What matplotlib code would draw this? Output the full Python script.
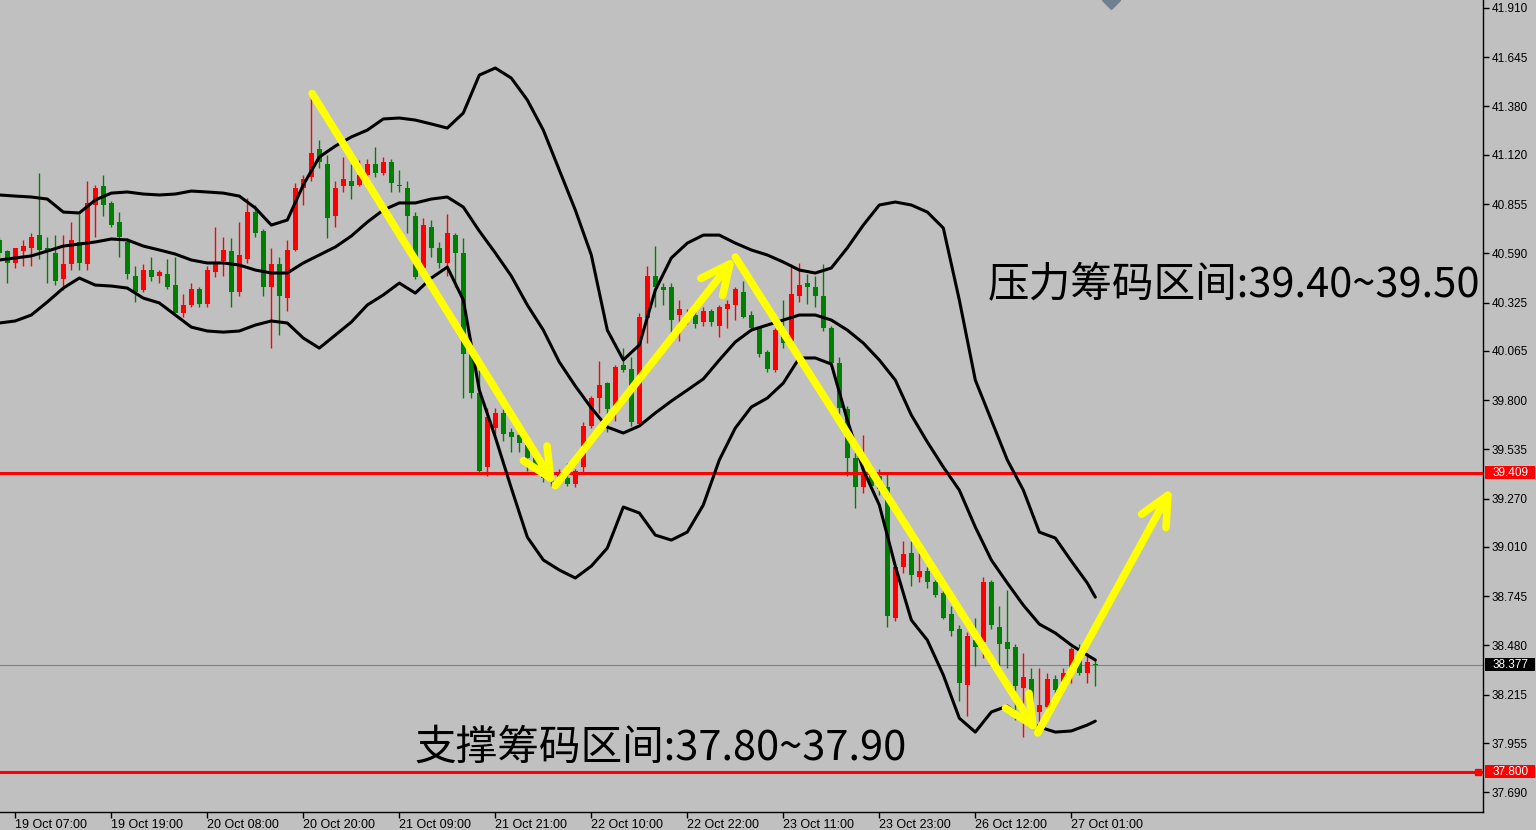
import numpy as np
import matplotlib
matplotlib.use('Agg')
import matplotlib.pyplot as plt
import matplotlib.transforms as mtransforms
from matplotlib.patches import Rectangle

plt.rcParams['font.family'] = ['Liberation Sans', 'DejaVu Sans']

# H1 candles, first bar is 19 Oct 05:00 (index -2), 19 Oct 07:00 is index 0
first_bar = -2
opens = [
    40.66, 40.60, 40.54, 40.60, 40.62, 40.69, 40.62, 40.59, 40.45, 40.53,
    40.65, 40.53, 40.85, 40.95, 40.86, 40.76, 40.65, 40.47, 40.39, 40.50,
    40.47, 40.48, 40.42, 40.27, 40.31, 40.40, 40.32, 40.49, 40.55, 40.60,
    40.38, 40.56, 40.81, 40.71, 40.41, 40.53, 40.35, 40.61, 40.94, 41.00,
    41.15, 41.07, 40.79, 40.95, 40.98, 40.96, 41.01, 41.07, 41.02, 41.08,
    40.96, 40.94, 40.79, 40.51, 40.73, 40.62, 40.54, 40.69, 40.59, 40.05,
    39.84, 39.44, 39.65, 39.73, 39.63, 39.61, 39.56, 39.49, 39.42, 39.39,
    39.37, 39.38, 39.35, 39.44, 39.66, 39.81, 39.89, 39.76, 39.99, 39.97,
    39.67, 40.24, 40.47, 40.41, 40.41, 40.26, 40.23, 40.26, 40.22, 40.28,
    40.20, 40.29, 40.31, 40.38, 40.26, 40.19, 40.06, 39.96, 40.18, 40.12,
    40.36, 40.43, 40.41, 40.36, 40.19, 40.00, 39.75, 39.49, 39.33, 39.41,
    39.39, 39.33, 38.63, 38.90, 38.98, 38.85, 38.88, 38.82, 38.76, 38.65,
    38.57, 38.27, 38.51, 38.50, 38.82, 38.58, 38.50, 38.47, 38.25, 38.30,
    38.12, 38.15, 38.30, 38.28, 38.32, 38.44, 38.33, 38.38]
highs = [
    40.68, 40.61, 40.62, 40.66, 40.70, 41.02, 40.68, 40.69, 40.69, 40.76,
    40.80, 40.98, 40.96, 41.01, 40.87, 40.81, 40.67, 40.52, 40.53, 40.57,
    40.50, 40.56, 40.57, 40.37, 40.43, 40.41, 40.52, 40.73, 40.68, 40.67,
    40.76, 40.89, 40.85, 40.72, 40.62, 40.57, 40.66, 40.97, 41.01, 41.45,
    41.20, 41.12, 40.98, 41.11, 41.07, 41.09, 41.10, 41.16, 41.11, 41.10,
    41.04, 40.98, 40.81, 40.78, 40.77, 40.65, 40.80, 40.70, 40.67, 40.08,
    39.96, 39.76, 39.76, 39.75, 39.65, 39.63, 39.57, 39.52, 39.47, 39.42,
    39.43, 39.46, 39.43, 39.68, 39.82, 40.01, 39.90, 39.99, 40.08, 40.03,
    40.27, 40.52, 40.63, 40.43, 40.43, 40.34, 40.29, 40.30, 40.30, 40.29,
    40.31, 40.34, 40.41, 40.44, 40.28, 40.20, 40.07, 40.19, 40.34, 40.53,
    40.54, 40.48, 40.47, 40.53, 40.20, 40.03, 39.77, 39.52, 39.61, 39.45,
    39.43, 39.40, 38.92, 39.04, 39.04, 38.98, 38.90, 38.83, 38.78, 38.69,
    38.59, 38.55, 38.63, 38.85, 38.83, 38.69, 38.78, 38.49, 38.44, 38.36,
    38.36, 38.33, 38.32, 38.36, 38.47, 38.49, 38.44, 38.40]
lows = [
    40.56, 40.43, 40.51, 40.52, 40.52, 40.56, 40.43, 40.42, 40.39, 40.50,
    40.50, 40.50, 40.68, 40.79, 40.73, 40.57, 40.45, 40.33, 40.38, 40.44,
    40.43, 40.40, 40.27, 40.25, 40.30, 40.30, 40.30, 40.46, 40.47, 40.30,
    40.36, 40.54, 40.68, 40.36, 40.08, 40.15, 40.28, 40.60, 40.85, 40.98,
    41.05, 40.67, 40.73, 40.92, 40.88, 40.95, 41.00, 41.00, 41.01, 40.92,
    40.92, 40.70, 40.45, 40.46, 40.57, 40.51, 40.47, 40.41, 39.81, 39.81,
    39.41, 39.39, 39.62, 39.58, 39.52, 39.52, 39.42, 39.41, 39.36, 39.34,
    39.35, 39.34, 39.33, 39.41, 39.65, 39.73, 39.63, 39.69, 39.95, 39.66,
    39.67, 40.11, 40.30, 40.31, 40.16, 40.12, 40.21, 40.19, 40.20, 40.20,
    40.14, 40.19, 40.23, 40.24, 40.17, 40.03, 39.95, 39.95, 40.08, 40.11,
    40.33, 40.32, 40.30, 40.17, 39.99, 39.69, 39.39, 39.22, 39.30, 39.32,
    39.29, 38.58, 38.61, 38.87, 38.80, 38.82, 38.79, 38.74, 38.62, 38.53,
    38.18, 38.10, 38.37, 38.41, 38.57, 38.37, 38.36, 38.08, 37.99, 38.12,
    38.03, 38.13, 38.20, 38.24, 38.28, 38.32, 38.28, 38.26]
closes = [
    40.59, 40.54, 40.62, 40.63, 40.68, 40.61, 40.61, 40.44, 40.53, 40.66,
    40.54, 40.86, 40.94, 40.85, 40.74, 40.68, 40.48, 40.38, 40.50, 40.46,
    40.49, 40.41, 40.27, 40.31, 40.40, 40.32, 40.50, 40.53, 40.61, 40.38,
    40.58, 40.81, 40.70, 40.41, 40.53, 40.36, 40.61, 40.94, 40.99, 41.13,
    41.08, 40.78, 40.94, 40.99, 40.95, 41.01, 41.07, 41.02, 41.08, 40.97,
    40.95, 40.79, 40.46, 40.74, 40.62, 40.54, 40.70, 40.59, 40.05, 39.84,
    39.42, 39.71, 39.73, 39.62, 39.60, 39.57, 39.49, 39.44, 39.38, 39.36,
    39.41, 39.35, 39.42, 39.66, 39.81, 39.88, 39.75, 39.98, 39.96, 39.68,
    40.25, 40.47, 40.41, 40.39, 40.23, 40.29, 40.26, 40.21, 40.28, 40.22,
    40.30, 40.32, 40.40, 40.25, 40.19, 40.05, 39.97, 40.18, 40.11, 40.37,
    40.42, 40.41, 40.36, 40.19, 40.00, 39.76, 39.49, 39.33, 39.41, 39.34,
    39.32, 38.64, 38.90, 38.97, 38.86, 38.88, 38.82, 38.75, 38.63, 38.56,
    38.28, 38.53, 38.47, 38.82, 38.59, 38.49, 38.46, 38.26, 38.31, 38.17,
    38.16, 38.30, 38.24, 38.33, 38.46, 38.33, 38.39, 38.377]

# bollinger bands read every second bar, last point is the final bar
band_bars = list(range(-2, 135, 2)) + [135]
band_upper = [
    40.904, 40.898, 40.893, 40.882, 40.812, 40.807, 40.877, 40.914, 40.920, 40.909,
    40.904, 40.909, 40.925, 40.920, 40.914, 40.898, 40.834, 40.742, 40.769, 40.958,
    41.108, 41.167, 41.216, 41.253, 41.313, 41.318, 41.307, 41.286, 41.264, 41.345,
    41.549, 41.587, 41.533, 41.415, 41.253, 41.038, 40.823, 40.581, 40.177, 40.016,
    40.097, 40.392, 40.565, 40.645, 40.688, 40.688, 40.645, 40.608, 40.581, 40.543,
    40.500, 40.484, 40.511, 40.619, 40.742, 40.850, 40.866, 40.850, 40.812, 40.726,
    40.339, 39.908, 39.693, 39.478, 39.316, 39.090, 39.058, 38.934, 38.816, 38.740]
band_mid = [
    40.554, 40.565, 40.576, 40.602, 40.629, 40.640, 40.651, 40.667, 40.662, 40.629,
    40.608, 40.586, 40.554, 40.538, 40.538, 40.527, 40.500, 40.484, 40.484, 40.538,
    40.581, 40.624, 40.683, 40.758, 40.823, 40.861, 40.861, 40.882, 40.893, 40.839,
    40.710, 40.592, 40.468, 40.312, 40.177, 40.005, 39.876, 39.758, 39.655, 39.623,
    39.661, 39.731, 39.795, 39.854, 39.914, 40.016, 40.113, 40.177, 40.204, 40.231,
    40.258, 40.258, 40.231, 40.177, 40.107, 40.016, 39.908, 39.720, 39.575, 39.440,
    39.316, 39.117, 38.940, 38.816, 38.697, 38.595, 38.547, 38.482, 38.428, 38.402]
band_lower = [
    40.215, 40.226, 40.258, 40.328, 40.403, 40.457, 40.419, 40.414, 40.403, 40.349,
    40.323, 40.258, 40.193, 40.172, 40.166, 40.172, 40.204, 40.226, 40.215, 40.134,
    40.080, 40.150, 40.220, 40.312, 40.366, 40.430, 40.376, 40.457, 40.516, 40.339,
    39.854, 39.601, 39.327, 39.063, 38.940, 38.886, 38.843, 38.907, 39.004, 39.225,
    39.193, 39.074, 39.047, 39.090, 39.236, 39.478, 39.650, 39.763, 39.811, 39.892,
    40.027, 40.027, 39.994, 39.693, 39.424, 39.236, 38.907, 38.617, 38.509, 38.321,
    38.089, 38.014, 38.122, 38.154, 38.089, 38.041, 38.014, 38.020, 38.052, 38.073]

# hand drawn zigzag (bar index, price)
arrow_bars = [37.1, 67.5, 90.0, 127.8, 144.6]
arrow_prices = [41.45, 39.34, 40.57, 38.01, 39.33]

resist_level = 39.409
support_level = 37.800
last_price = 38.377

price_ticks = [41.910, 41.645, 41.380, 41.120, 40.855, 40.590, 40.325, 40.065, 39.800,
               39.535, 39.270, 39.010, 38.745, 38.480, 38.215, 37.955, 37.690]
time_ticks = [0, 12, 24, 36, 48, 60, 72, 84, 96, 108, 120, 132]
time_labels = ['19 Oct 07:00', '19 Oct 19:00', '20 Oct 08:00', '20 Oct 20:00',
               '21 Oct 09:00', '21 Oct 21:00', '22 Oct 10:00', '22 Oct 22:00',
               '23 Oct 11:00', '23 Oct 23:00', '26 Oct 12:00', '27 Oct 01:00']

BG = '#c0c0c0'
UP = '#ff0000'
DOWN = '#008000'

o = np.array(opens)
h = np.array(highs)
l = np.array(lows)
c = np.array(closes)
x = np.arange(first_bar, first_bar + len(o))
cols = np.where(c > o, UP, DOWN)

fig = plt.figure(figsize=(15.36, 8.30), dpi=100, facecolor=BG)
ax = fig.add_axes([0, 18/830, 1483/1536, 812/830])
ax.set_facecolor(BG)

ax.vlines(x, l, h, colors=cols, linewidth=1, zorder=2)
body_h = np.maximum(np.abs(c - o), 0.006)
ax.bar(x, body_h, bottom=np.minimum(o, c), width=0.62, color=cols, linewidth=0, zorder=3)

ax.axhline(last_price, color='#808080', lw=0.8, zorder=1)
ax.axhline(resist_level, color='#ff0000', lw=2.2, zorder=4)
ax.axhline(support_level, color='#ff0000', lw=2.2, zorder=4)

for band in (band_upper, band_mid, band_lower):
    ax.plot(band_bars, band, color='black', lw=2.2, zorder=5, solid_capstyle='round')

for k in range(len(arrow_bars) - 1):
    ax.annotate('', xy=(arrow_bars[k + 1], arrow_prices[k + 1]),
                xytext=(arrow_bars[k], arrow_prices[k]),
                arrowprops=dict(arrowstyle='->,head_length=1.05,head_width=0.5',
                                color='#ffff00', lw=5.5, mutation_scale=20,
                                shrinkA=0, shrinkB=0),
                zorder=6)

ax.set_xlim(-1.9125, 183.46)
ax.set_ylim(37.584, 41.953)

for s in ('left', 'top'):
    ax.spines[s].set_visible(False)
for s in ('right', 'bottom'):
    ax.spines[s].set_color('black')
    ax.spines[s].set_linewidth(1)

ax.yaxis.tick_right()
ax.set_yticks(price_ticks)
ax.set_yticklabels(['%.3f' % v for v in price_ticks])
ax.tick_params(axis='y', direction='out', length=4, width=1, pad=2, labelsize=8.5, colors='black')
ax.set_xticks(time_ticks)
ax.set_xticklabels(time_labels, ha='left')
ax.tick_params(axis='x', direction='out', length=4, width=1, pad=1, labelsize=9, colors='black')

# price tags on the right scale
trans = mtransforms.blended_transform_factory(ax.transAxes, ax.transData)
tag_w = 50 / 1483
tag_h = 13 * (41.953 - 37.584) / 812
for val, fc in ((resist_level, '#ff0000'), (support_level, '#ff0000'), (last_price, 'black')):
    ax.add_patch(Rectangle((1.0015, val - tag_h / 2), tag_w, tag_h, transform=trans,
                           facecolor=fc, edgecolor='none', clip_on=False, zorder=7))
    ax.text(1.0015 + tag_w / 2, val, '%.3f' % val, transform=trans, color='white',
            fontsize=8.5, ha='center', va='center', clip_on=False, zorder=8)

ax.plot([0.9968], [support_level], marker='s', ms=5, mfc='#ff0000', mec='#ff0000',
        transform=trans, clip_on=False, zorder=7)
ax.plot([1111 / 1483], [1.0], marker='D', ms=9, color='#708090',
        transform=ax.transAxes, clip_on=False, zorder=7)

cjk = ['Noto Sans CJK SC', 'DejaVu Sans']
fig.text(988 / 1536, 1 - 285 / 830, '压力筹码区间:39.40~39.50', family=cjk,
         fontsize=30, color='black', ha='left', va='center')
fig.text(414 / 1536, 1 - 748 / 830, '支撑筹码区间:37.80~37.90', family=cjk,
         fontsize=30, color='black', ha='left', va='center')

fig.savefig('out.png', dpi=100, facecolor=BG)
